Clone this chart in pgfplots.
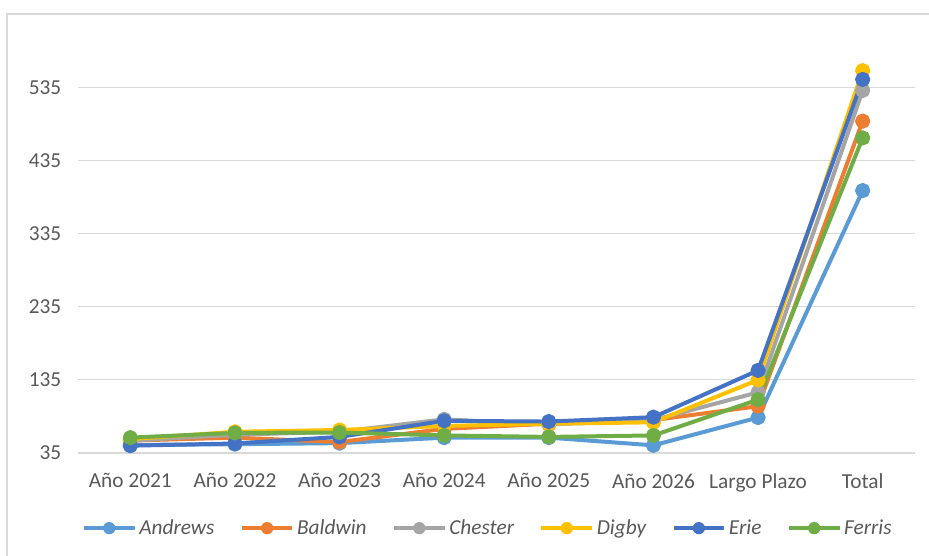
\documentclass[border=0pt]{standalone}
\usepackage{pgfplots}
\pgfplotsset{compat=1.18}
\usepackage{fontspec}
\setmainfont{Carlito}
\definecolor{cA}{HTML}{5B9BD5}
\definecolor{cB}{HTML}{ED7D31}
\definecolor{cC}{HTML}{A5A5A5}
\definecolor{cD}{HTML}{FFC000}
\definecolor{cE}{HTML}{4472C4}
\definecolor{cF}{HTML}{70AD47}
\definecolor{txt}{HTML}{595959}
\definecolor{grd}{HTML}{D9D9D9}
\begin{document}
\begin{tikzpicture}
\path[use as bounding box] (0,0) rectangle (696.75pt,417pt);
\draw[grd, line width=1.2pt] (5.25pt,-2pt) -- (5.25pt,406.5pt) -- (700pt,406.5pt);
\begin{axis}[
  at={(58.5pt,77.25pt)}, anchor=south west,
  scale only axis, width=627.75pt, height=309.75pt,
  xmin=-0.5, xmax=7.5, ymin=35, ymax=600,
  xtick={0,...,7},
  xticklabels={Año 2021,Año 2022,Año 2023,Año 2024,Año 2025,Año 2026,Largo Plazo,Total},
  ytick={35,135,235,335,435,535},
  ymajorgrids, grid style={grd, line width=0.8pt},
  axis line style={draw=none},
  major tick length=0pt,
  tick label style={font=\fontsize{16}{19}\selectfont, text=txt},
  /pgf/number format/assume math mode=true,
  y tick label style={xshift=-9pt},
  x tick label style={yshift=-12pt},
  every axis plot/.append style={line width=3pt, mark=*, mark size=4.2pt, line join=round},
  legend style={at={(0.49,-0.182)}, anchor=center, draw=none, legend columns=6,
    font=\fontsize{16}{19}\selectfont\itshape, text=txt,
    /tikz/every even column/.append style={column sep=17pt}},
  legend image code/.code={\draw[#1, mark=none] (0pt,0pt) -- (38pt,0pt);
    \fill[#1, draw=none] (19pt,0pt) circle (4.6pt);},
]
\addplot[cA, mark options={fill=cA, draw=cA}] coordinates {(0,46) (1,47) (2,48.5) (3,56) (4,56) (5,45.5) (6,83.5) (7,394)};
\addlegendentry{Andrews}
\addplot[cB, mark options={fill=cB, draw=cB}] coordinates {(0,52) (1,56) (2,50) (3,68) (4,75) (5,80) (6,99) (7,489)};
\addlegendentry{Baldwin}
\addplot[cC, mark options={fill=cC, draw=cC}] coordinates {(0,52) (1,60) (2,64) (3,81) (4,74) (5,80) (6,118) (7,531)};
\addlegendentry{Chester}
\addplot[cD, mark options={fill=cD, draw=cD}] coordinates {(0,54) (1,64) (2,66.5) (3,72) (4,75) (5,77) (6,135) (7,558)};
\addlegendentry{Digby}
\addplot[cE, mark options={fill=cE, draw=cE}] coordinates {(0,45) (1,48) (2,57) (3,79) (4,78) (5,84) (6,148) (7,546)};
\addlegendentry{Erie}
\addplot[cF, mark options={fill=cF, draw=cF}] coordinates {(0,56) (1,62.5) (2,63) (3,59) (4,57) (5,59) (6,108) (7,466)};
\addlegendentry{Ferris}
\end{axis}
\end{tikzpicture}
\end{document}
